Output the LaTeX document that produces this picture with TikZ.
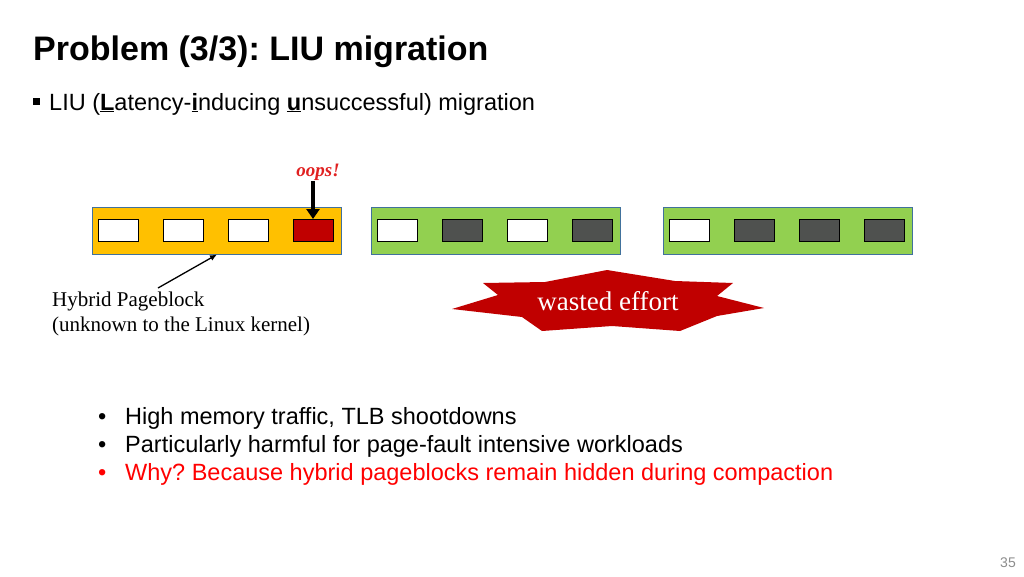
\documentclass[tikz,border=0pt]{standalone}
\usepackage{fontspec}
\setmainfont{Liberation Sans}
\newfontfamily\seriffont{Liberation Serif}
\usetikzlibrary{shapes,arrows.meta,positioning}
\usepackage{xcolor}
\definecolor{pbyellow}{HTML}{FFC000}
\definecolor{pbgreen}{HTML}{92D050}
\definecolor{pbborder}{HTML}{41719C}
\definecolor{pgdark}{HTML}{4F514F}
\definecolor{pgred}{HTML}{C00000}
\definecolor{oopsred}{HTML}{E02020}
\definecolor{pagenum}{HTML}{8C8C8C}
\frenchspacing

\begin{document}
\begin{tikzpicture}[x=1pt,y=-1pt]
      \tikzstyle{pageblock} = [rectangle, draw=pbborder, line width=1pt, minimum width=249pt, minimum height=47pt, inner sep=0pt]
      \tikzstyle{page} = [rectangle, draw=black, line width=1pt, minimum width=40pt, minimum height=22pt, inner sep=0pt]
      \tikzstyle{slide} = [inner sep=0pt, anchor=base west, font=\fontsize{23.5}{28}\selectfont]
      \useasboundingbox (0,0) rectangle (1024,576);

      \node[slide, font=\fontsize{34}{40}\selectfont\bfseries] (title) at (33,60) {Problem (3/3): LIU migration};
      \node[slide] (sq) at (33,110) {\rule[5pt]{7pt}{7.5pt}};
      \node[slide] (liu) at (49,110) {LIU (\underline{\textbf{L}}atency-\underline{\textbf{i}}nducing \underline{\textbf{u}}nsuccessful) migration};

      % pageblocks and their pages
      \foreach \b/\x/\fc in {1/92/pbyellow, 2/371/pbgreen, 3/663/pbgreen}
        \node[pageblock, fill=\fc, anchor=west] (blk\b) at (\x,230.5) {};
      \foreach \b/\cols in {1/{white,white,white,pgred}, 2/{white,pgdark,white,pgdark}, 3/{white,pgdark,pgdark,pgdark}}
        \foreach \c [count=\i] in \cols
          \node[page, fill=\c] (pg-\b-\i) at ([xshift={26+65*(\i-1)}]blk\b.west) {};

      \node[above=38pt of pg-1-4, xshift=5pt, inner sep=0pt, text=oopsred, font=\seriffont\fontsize{19}{22}\selectfont\bfseries\itshape] (oops) {oops!};
      \draw[line width=3.5pt, -{Triangle[length=10pt,width=13pt]}] (oops.south -| pg-1-4.north) -- (pg-1-4.north);

      \node[slide, font=\seriffont\fontsize{21}{25}\selectfont] (hyb1) at (52,306) {Hybrid Pageblock};
      \node[slide, font=\seriffont\fontsize{21}{25}\selectfont] (hyb2) at (52,331) {(unknown to the Linux kernel)};
      \coordinate (hybtip) at (158,288);
      \draw[line width=1.3pt, -{Latex[length=7pt,width=6pt]}] (hybtip) -- (blk1.south);

      \fill[pgred] (452,309) -- (498,295) -- (483,283) -- (545,282) -- (607,270) -- (675,281) -- (733,283) -- (717,296)
        -- (764,308) -- (717,316) -- (680,331) -- (612,326) -- (542,331) -- (522,317) -- cycle;
      \node[inner sep=0pt, anchor=base, text=white, font=\seriffont\fontsize{27}{30}\selectfont] (waste) at (608,310) {wasted effort};

      \node[slide] (dot1) at (98,424) {•};
      \node[slide] (pt1) at (125,424) {High memory traffic, TLB shootdowns};
      \node[slide] (dot2) at (98,452) {•};
      \node[slide] (pt2) at (125,452) {Particularly harmful for page-fault intensive workloads};
      \node[slide, text=red] (dot3) at (98,480) {•};
      \node[slide, text=red] (pt3) at (125,480) {Why? Because hybrid pageblocks remain hidden during compaction};

      \node[inner sep=0pt, anchor=base east, text=pagenum, font=\fontsize{14}{16}\selectfont] (num) at (1016,567) {35};
\end{tikzpicture}
\end{document}
